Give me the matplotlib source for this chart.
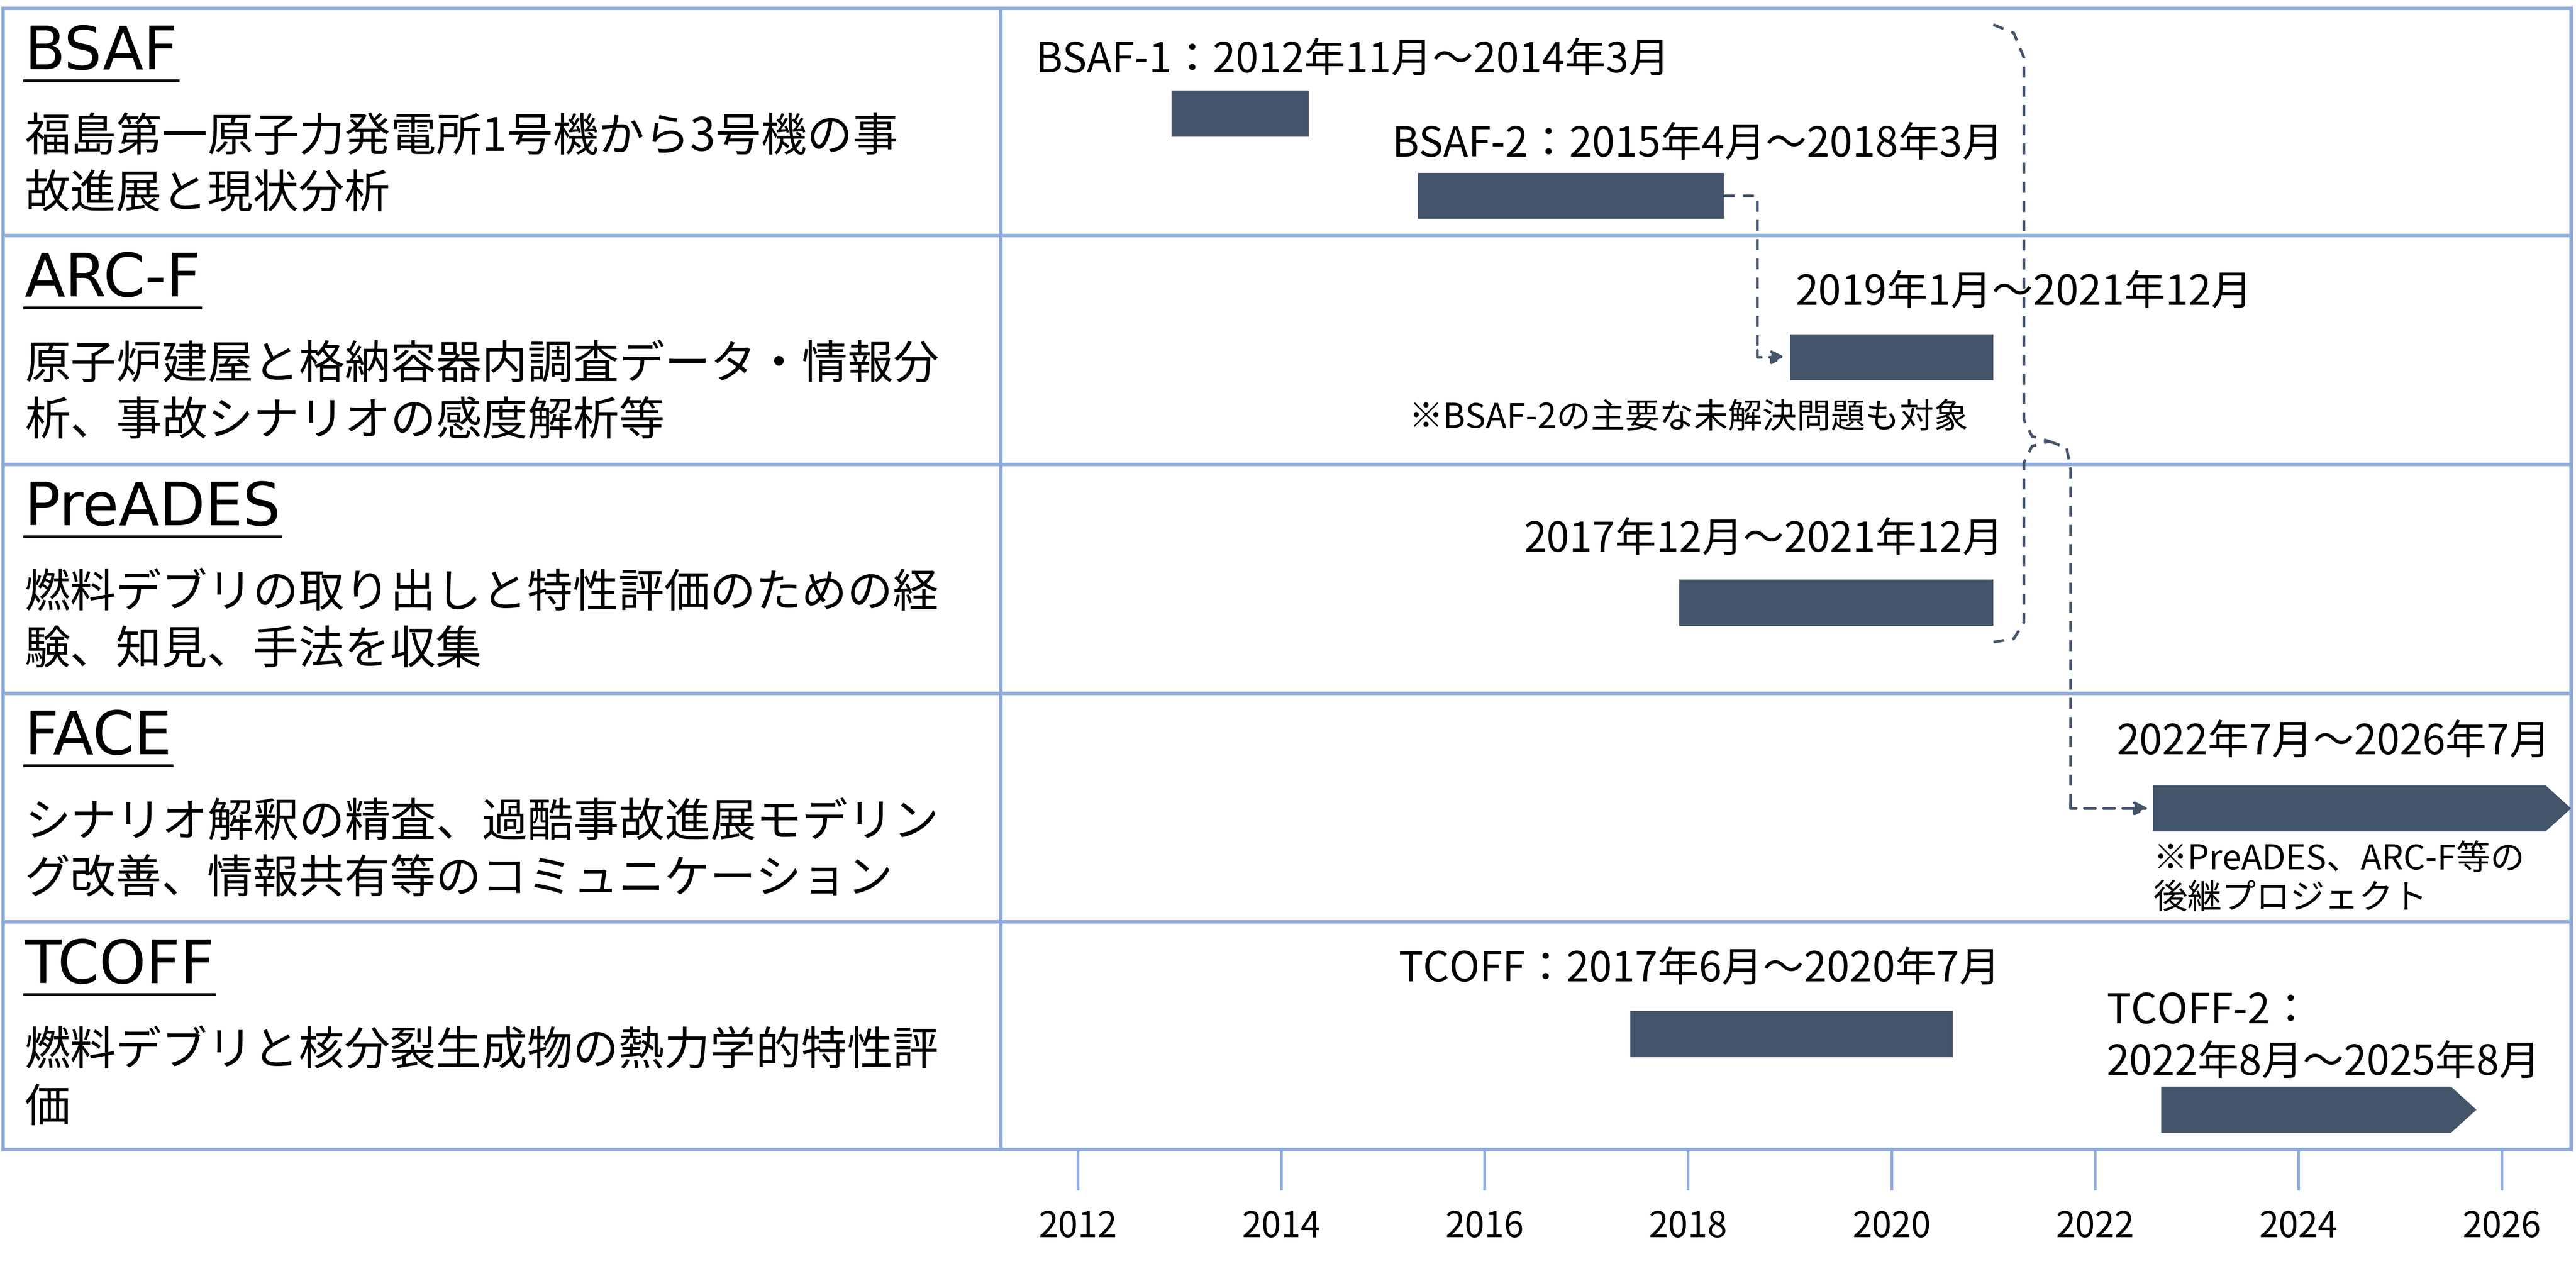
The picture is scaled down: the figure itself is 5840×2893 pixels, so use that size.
import matplotlib
matplotlib.use("Agg")
import matplotlib.pyplot as plt
from matplotlib.patches import Polygon, FancyArrowPatch

plt.rcParams['font.family'] = ['Noto Sans CJK JP', 'DejaVu Sans']

# project rows (left panel)
titles = ["BSAF", "ARC-F", "PreADES", "FACE", "TCOFF"]
descs = ["福島第一原子力発電所1号機から3号機の事\n故進展と現状分析",
         "原子炉建屋と格納容器内調査データ・情報分\n析、事故シナリオの感度解析等",
         "燃料デブリの取り出しと特性評価のための経\n験、知見、手法を収集",
         "シナリオ解釈の精査、過酷事故進展モデリン\nグ改善、情報共有等のコミュニケーション",
         "燃料デブリと核分裂生成物の熱力学的特性評\n価"]

# bars: (start year, end year, arrow end?)
bar_names = ["BSAF-1", "BSAF-2", "ARC-F", "PreADES", "FACE", "TCOFF", "TCOFF-2"]
bar_start = [2012.92, 2015.34, 2019.0, 2017.91, 2022.57, 2017.43, 2022.65]
bar_end = [2014.27, 2018.35, 2021.0, 2021.0, 2026.68, 2020.6, 2025.75]
bar_arrow = [False, False, False, False, True, False, True]
bar_y = [69, 119, 217, 366, 491, 628, 674]

xticks = [2012, 2014, 2016, 2018, 2020, 2022, 2024, 2026]

BAR = "#44546a"
LINE = "#8eaadb"
W, H = 1565, 775
fig = plt.figure(figsize=(5840 / 373.2, 2893 / 373.2), dpi=373.2)

# layout overlay in pixel units
lay = fig.add_axes([0, 0, 1, 1])
lay.set_xlim(0, W)
lay.set_ylim(H, 0)
lay.axis("off")
row_edges = [5, 143, 282, 421, 560, 698]
for y in row_edges:
    lay.plot([2, 1562], [y, y], color=LINE, lw=1.5)
for x in [2, 608, 1562]:
    lay.plot([x, x], [5, 698], color=LINE, lw=1.5)

for i, (t, d) in enumerate(zip(titles, descs)):
    top = row_edges[i]
    txt = lay.text(15, top + 27, t, fontsize=26, va="center", ha="left",
                   family=['DejaVu Sans'])
    fig.canvas.draw()
    bb = txt.get_window_extent().transformed(lay.transData.inverted())
    lay.plot([bb.x0, bb.x1], [top + 44, top + 44], color="black", lw=1.2)
    lay.text(15, top + 96, d, fontsize=20, va="center", ha="left", linespacing=1.25)

# chart axes
ax = fig.add_axes([608 / W, 1 - 698 / H, (1562 - 608) / W, (698 - 5) / H])
ax.set_xlim(2011.24, 2026.68)
ax.set_ylim(698, 5)
for s in ax.spines.values():
    s.set_visible(False)
ax.set_yticks([])
ax.set_xticks(xticks)
ax.tick_params(axis="x", length=18, width=1.2, color=LINE, labelsize=15.5, pad=8)
ax.patch.set_alpha(0)

bh = 28
for s, e, a, y in zip(bar_start, bar_end, bar_arrow, bar_y):
    if a:
        tip = 0.25
        pts = [(s, y - bh / 2), (e - tip, y - bh / 2), (e, y), (e - tip, y + bh / 2), (s, y + bh / 2)]
    else:
        pts = [(s, y - bh / 2), (e, y - bh / 2), (e, y + bh / 2), (s, y + bh / 2)]
    ax.add_patch(Polygon(pts, closed=True, color=BAR, lw=0, clip_on=False))

fs = 18
nfs = 15
ax.text(2014.7, 37, "BSAF-1：2012年11月～2014年3月", fontsize=fs, ha="center", va="center")
ax.text(2021.1, 88, "BSAF-2：2015年4月～2018年3月", fontsize=fs, ha="right", va="center")
ax.text(2021.3, 178, "2019年1月～2021年12月", fontsize=fs, ha="center", va="center")
ax.text(2018.0, 254, "※BSAF-2の主要な未解決問題も対象", fontsize=nfs, ha="center", va="center")
ax.text(2021.1, 328, "2017年12月～2021年12月", fontsize=fs, ha="right", va="center")
ax.text(2026.48, 451, "2022年7月～2026年7月", fontsize=fs, ha="right", va="center")
ax.text(2022.57, 534, "※PreADES、ARC-F等の\n後継プロジェクト", fontsize=nfs, ha="left", va="center",
        linespacing=1.15)
ax.text(2021.07, 589, "TCOFF：2017年6月～2020年7月", fontsize=fs, ha="right", va="center")
ax.text(2022.11, 630, "TCOFF-2：\n2022年8月～2025年8月", fontsize=fs, ha="left", va="center",
        linespacing=1.3)

# dashed connectors
dkw = dict(color=BAR, lw=1.2, ls=(0, (4, 3)))
ax.plot([2018.35, 2018.68, 2018.68], [119, 119, 210], **dkw)
ax.add_patch(FancyArrowPatch((2018.68, 210), (2019.0, 217), arrowstyle="-|>",
                             mutation_scale=12, color=BAR, lw=1.2, ls=(0, (4, 3)),
                             connectionstyle="angle,angleA=-90,angleB=180,rad=0"))
# brace
bx = [2021.0, 2021.2, 2021.3, 2021.3, 2021.38, 2021.55, 2021.38, 2021.3, 2021.3, 2021.2, 2021.0]
by = [15, 20, 35, 255, 265, 268, 271, 281, 378, 388, 390]
ax.plot(bx, by, **dkw)
ax.plot([2021.55, 2021.72, 2021.76, 2021.76], [268, 272, 285, 491], **dkw)
ax.add_patch(FancyArrowPatch((2021.76, 485), (2022.57, 491), arrowstyle="-|>",
                             mutation_scale=12, color=BAR, lw=1.2, ls=(0, (4, 3)),
                             connectionstyle="angle,angleA=-90,angleB=180,rad=0"))

fig.savefig("out.png", dpi=373.2)
